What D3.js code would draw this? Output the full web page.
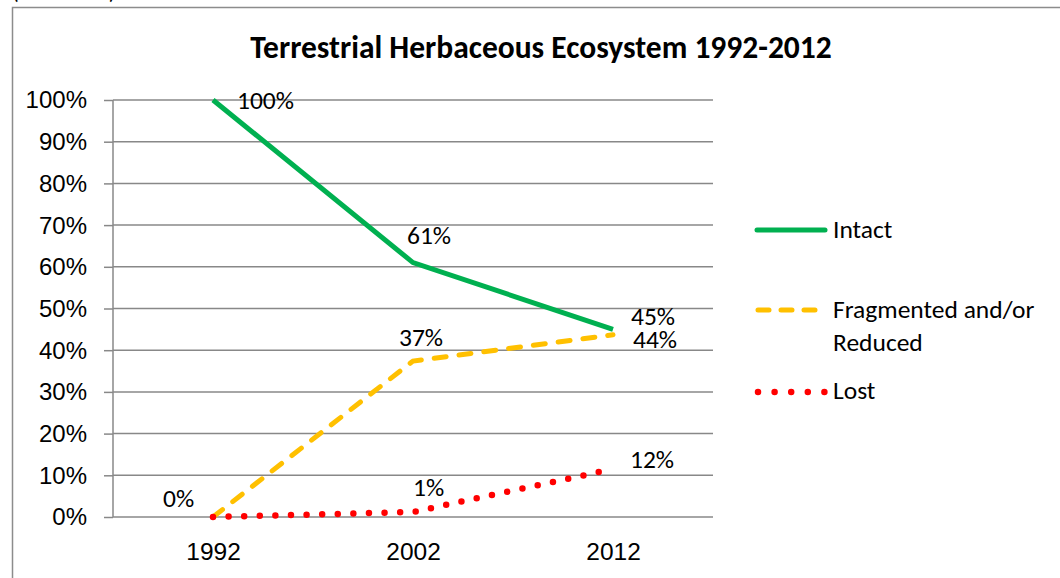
<!DOCTYPE html>
<html>
<head>
<meta charset="utf-8">
<script src="https://cdn.jsdelivr.net/npm/d3@7"></script>
<style>
  body { margin: 0; background: #fff; }
  svg { display: block; font-family: Carlito, Calibri, Lato, sans-serif; }
</style>
</head>
<body>
<svg id="chart" width="1060" height="578"></svg>
<script>
// data
var years = ["1992", "2002", "2012"];
var intact = [1.00, 0.61, 0.45];
var fragmented = [0.00, 0.374, 0.437];
var lost = [0.00, 0.012, 0.115];
var yTicks = [0, 0.1, 0.2, 0.3, 0.4, 0.5, 0.6, 0.7, 0.8, 0.9, 1.0];
var seriesNames = ["Intact", "Fragmented and/or", "Reduced", "Lost"];

var svg = d3.select("#chart");

var plotLeft = 113, plotRight = 713, plotTop = 100, plotBottom = 517;
var fs = 25.5;

var x = d3.scalePoint().domain(years).range([plotLeft, plotRight]).padding(0.5);
var y = d3.scaleLinear().domain([0, 1]).range([plotBottom, plotTop]);
var pct = function(v) { return Math.round(v * 100 + 1e-9) + "%"; };

// outer frame + cut off caption above it
svg.append("text").attr("x", 12).attr("y", -1).attr("font-size", 22).text("(continued)");
svg.append("path")
  .attr("d", "M12.5,578 V7.5 H1060")
  .attr("fill", "none").attr("stroke", "#8c8c8c").attr("stroke-width", 1.5);

// title
svg.append("text")
  .attr("x", 541).attr("y", 58)
  .attr("text-anchor", "middle")
  .attr("font-size", 31.5).attr("font-weight", "bold")
  .text("Terrestrial Herbaceous Ecosystem 1992-2012");

// grid
svg.append("g").selectAll("line")
  .data(yTicks)
  .enter().append("line")
  .attr("x1", plotLeft).attr("x2", plotRight)
  .attr("y1", function(d) { return y(d); })
  .attr("y2", function(d) { return y(d); })
  .attr("stroke", "#888").attr("stroke-width", 1.5);

// y axis
var yAxis = svg.append("g")
  .attr("transform", "translate(" + plotLeft + ",0)")
  .call(d3.axisLeft(y).tickValues(yTicks).tickSize(9).tickFormat(d3.format(".0%")));
yAxis.select(".domain").attr("stroke", "#888").attr("stroke-width", 1.5).attr("d", "M0," + plotTop + "V" + plotBottom);
yAxis.selectAll(".tick line").attr("stroke", "#888").attr("stroke-width", 1.5);
yAxis.selectAll(".tick text").attr("x", -26).attr("dy", "0.33em").attr("font-size", 24).attr("fill", "#000")
  .attr("font-family", "inherit");

// x axis labels
var xAxis = svg.append("g")
  .attr("transform", "translate(0," + plotBottom + ")")
  .call(d3.axisBottom(x).tickSize(0));
xAxis.select(".domain").remove();
xAxis.selectAll(".tick text").attr("y", 43).attr("dy", 0).attr("font-size", 24.5).attr("fill", "#000")
  .attr("font-family", "inherit");

// lines
var line = d3.line()
  .x(function(d, i) { return x(years[i]); })
  .y(function(d) { return y(d); });

svg.append("path").datum(intact)
  .attr("d", line).attr("fill", "none")
  .attr("stroke", "#00b050").attr("stroke-width", 5);

svg.append("path").datum(fragmented)
  .attr("d", line).attr("fill", "none")
  .attr("stroke", "#ffc000").attr("stroke-width", 5)
  .attr("stroke-linecap", "round")
  .attr("stroke-dasharray", "12,13");

svg.append("path").datum(lost)
  .attr("d", line).attr("fill", "none")
  .attr("stroke", "#ff0000").attr("stroke-width", 6.5)
  .attr("stroke-linecap", "round")
  .attr("stroke-dasharray", "0,15.6");

// data labels
function labels(data, dx, dy, skip) {
  svg.append("g").selectAll("text")
    .data(data.map(function(v, i) { return {v: v, i: i}; })
      .filter(function(d) { return !skip || skip.indexOf(d.i) < 0; }))
    .enter().append("text")
    .attr("x", function(d) { return x(years[d.i]) + dx[d.i]; })
    .attr("y", function(d) { return y(d.v) + dy[d.i]; })
    .attr("font-size", fs)
    .text(function(d) { return pct(d.v); });
}
labels(intact, [24, -6, 18], [9, -19, -4]);
labels(fragmented, [-50, -14, 20], [-10, -15, 13]);
labels(lost, [0, 0, 17], [0, -16, -1], [0]);

// legend
var lg = svg.append("g").attr("transform", "translate(755,0)");
lg.append("line").attr("x1", 2).attr("x2", 70).attr("y1", 230).attr("y2", 230)
  .attr("stroke", "#00b050").attr("stroke-width", 5).attr("stroke-linecap", "round");
lg.append("line").attr("x1", 3).attr("x2", 60).attr("y1", 310).attr("y2", 310)
  .attr("stroke", "#ffc000").attr("stroke-width", 5).attr("stroke-linecap", "round")
  .attr("stroke-dasharray", "11,12");
lg.append("line").attr("x1", 3).attr("x2", 70).attr("y1", 392).attr("y2", 392)
  .attr("stroke", "#ff0000").attr("stroke-width", 6.5).attr("stroke-linecap", "round")
  .attr("stroke-dasharray", "0,16.6");

lg.append("text").attr("x", 78).attr("y", 238).attr("font-size", fs).text(seriesNames[0]);
lg.append("text").attr("x", 78).attr("y", 318).attr("font-size", fs).text(seriesNames[1]);
lg.append("text").attr("x", 78).attr("y", 351).attr("font-size", fs).text(seriesNames[2]);
lg.append("text").attr("x", 78).attr("y", 399).attr("font-size", fs).text(seriesNames[3]);
</script>
</body>
</html>
